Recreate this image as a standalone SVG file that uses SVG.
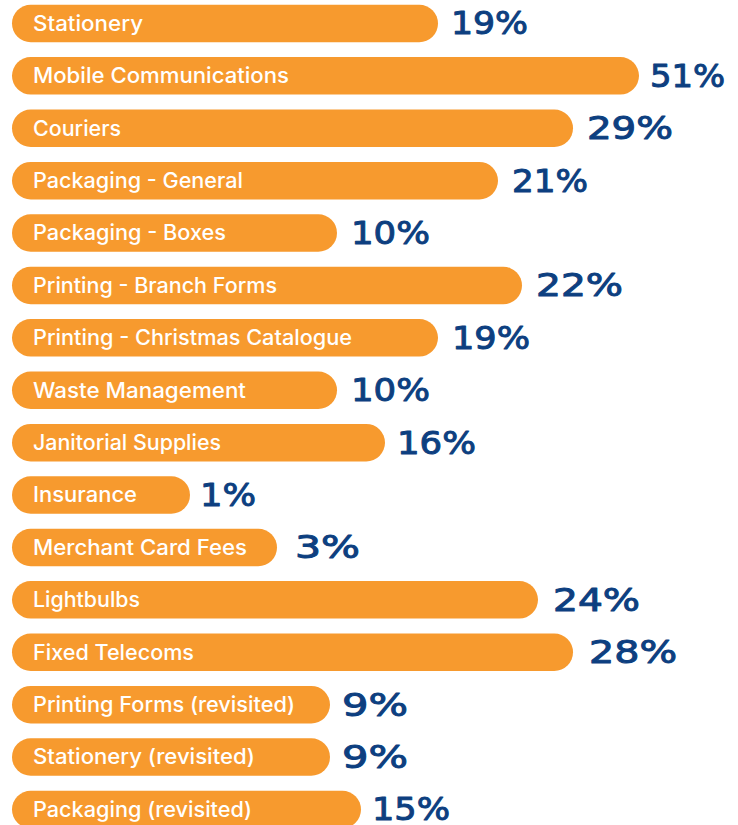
<svg xmlns="http://www.w3.org/2000/svg" width="738" height="825" viewBox="0 0 738 825">
<style>
.bar{fill:#F79A2E}
.lbl{font-family:Inter,"Liberation Sans",Arial,sans-serif;font-weight:500;font-size:21px;fill:#FFFFFF}
.pct{font-family:"DejaVu Sans","Liberation Sans",sans-serif;font-weight:normal;font-size:32px;fill:#0D3F80;stroke:#0D3F80;stroke-width:1;stroke-linejoin:round}
</style>
<rect x="0" y="0" width="738" height="825" fill="#FFFFFF"/>
<g id="row-stationery">
<rect class="bar" x="12" y="4.7" width="426" height="37.5" rx="18.75"/>
<text class="lbl" x="33" y="30.7" textLength="110" lengthAdjust="spacingAndGlyphs">Stationery</text>
<text class="pct" x="451" y="34.3" textLength="77" lengthAdjust="spacingAndGlyphs">19%</text>
</g>
<g id="row-mobile">
<rect class="bar" x="12" y="57.1" width="627" height="37.5" rx="18.75"/>
<text class="lbl" x="33" y="83.1" textLength="256" lengthAdjust="spacingAndGlyphs">Mobile Communications</text>
<text class="pct" x="650" y="86.7" textLength="75" lengthAdjust="spacingAndGlyphs">51%</text>
</g>
<g id="row-couriers">
<rect class="bar" x="12" y="109.5" width="561" height="37.5" rx="18.75"/>
<text class="lbl" x="33" y="135.5" textLength="88" lengthAdjust="spacingAndGlyphs">Couriers</text>
<text class="pct" x="587" y="139.1" textLength="86" lengthAdjust="spacingAndGlyphs">29%</text>
</g>
<g id="row-packaging-general">
<rect class="bar" x="12" y="161.9" width="486" height="37.5" rx="18.75"/>
<text class="lbl" x="33" y="187.9" textLength="210" lengthAdjust="spacingAndGlyphs">Packaging - General</text>
<text class="pct" x="512" y="191.5" textLength="76" lengthAdjust="spacingAndGlyphs">21%</text>
</g>
<g id="row-packaging-boxes">
<rect class="bar" x="12" y="214.3" width="325" height="37.5" rx="18.75"/>
<text class="lbl" x="33" y="240.3" textLength="193" lengthAdjust="spacingAndGlyphs">Packaging - Boxes</text>
<text class="pct" x="351" y="243.9" textLength="79" lengthAdjust="spacingAndGlyphs">10%</text>
</g>
<g id="row-printing-branch">
<rect class="bar" x="12" y="266.7" width="510" height="37.5" rx="18.75"/>
<text class="lbl" x="33" y="292.7" textLength="244" lengthAdjust="spacingAndGlyphs">Printing - Branch Forms</text>
<text class="pct" x="536" y="296.3" textLength="87" lengthAdjust="spacingAndGlyphs">22%</text>
</g>
<g id="row-printing-christmas">
<rect class="bar" x="12" y="319.1" width="426" height="37.5" rx="18.75"/>
<text class="lbl" x="33" y="345.1" textLength="319" lengthAdjust="spacingAndGlyphs">Printing - Christmas Catalogue</text>
<text class="pct" x="452" y="348.7" textLength="78" lengthAdjust="spacingAndGlyphs">19%</text>
</g>
<g id="row-waste">
<rect class="bar" x="12" y="371.5" width="325" height="37.5" rx="18.75"/>
<text class="lbl" x="33" y="397.5" textLength="213" lengthAdjust="spacingAndGlyphs">Waste Management</text>
<text class="pct" x="351" y="401.1" textLength="79" lengthAdjust="spacingAndGlyphs">10%</text>
</g>
<g id="row-janitorial">
<rect class="bar" x="12" y="423.9" width="373" height="37.5" rx="18.75"/>
<text class="lbl" x="33" y="449.9" textLength="188" lengthAdjust="spacingAndGlyphs">Janitorial Supplies</text>
<text class="pct" x="397" y="453.5" textLength="79" lengthAdjust="spacingAndGlyphs">16%</text>
</g>
<g id="row-insurance">
<rect class="bar" x="12" y="476.3" width="178" height="37.5" rx="18.75"/>
<text class="lbl" x="33" y="502.3" textLength="104" lengthAdjust="spacingAndGlyphs">Insurance</text>
<text class="pct" x="200" y="505.9" textLength="56" lengthAdjust="spacingAndGlyphs">1%</text>
</g>
<g id="row-merchant">
<rect class="bar" x="12" y="528.7" width="265" height="37.5" rx="18.75"/>
<text class="lbl" x="33" y="554.7" textLength="214" lengthAdjust="spacingAndGlyphs">Merchant Card Fees</text>
<text class="pct" x="295" y="558.3" textLength="65" lengthAdjust="spacingAndGlyphs">3%</text>
</g>
<g id="row-lightbulbs">
<rect class="bar" x="12" y="581.1" width="526" height="37.5" rx="18.75"/>
<text class="lbl" x="33" y="607.1" textLength="107" lengthAdjust="spacingAndGlyphs">Lightbulbs</text>
<text class="pct" x="553" y="610.7" textLength="87" lengthAdjust="spacingAndGlyphs">24%</text>
</g>
<g id="row-fixed-telecoms">
<rect class="bar" x="12" y="633.5" width="561" height="37.5" rx="18.75"/>
<text class="lbl" x="33" y="659.5" textLength="161" lengthAdjust="spacingAndGlyphs">Fixed Telecoms</text>
<text class="pct" x="589" y="663.1" textLength="88" lengthAdjust="spacingAndGlyphs">28%</text>
</g>
<g id="row-printing-forms-revisited">
<rect class="bar" x="12" y="685.9" width="318" height="37.5" rx="18.75"/>
<text class="lbl" x="33" y="711.9" textLength="262" lengthAdjust="spacingAndGlyphs">Printing Forms (revisited)</text>
<text class="pct" x="342" y="715.5" textLength="66" lengthAdjust="spacingAndGlyphs">9%</text>
</g>
<g id="row-stationery-revisited">
<rect class="bar" x="12" y="738.3" width="318" height="37.5" rx="18.75"/>
<text class="lbl" x="33" y="764.3" textLength="222" lengthAdjust="spacingAndGlyphs">Stationery (revisited)</text>
<text class="pct" x="342" y="767.9" textLength="66" lengthAdjust="spacingAndGlyphs">9%</text>
</g>
<g id="row-packaging-revisited">
<rect class="bar" x="12" y="790.7" width="349" height="37.5" rx="18.75"/>
<text class="lbl" x="33" y="816.7" textLength="219" lengthAdjust="spacingAndGlyphs">Packaging (revisited)</text>
<text class="pct" x="372" y="820.3" textLength="78" lengthAdjust="spacingAndGlyphs">15%</text>
</g>
</svg>
